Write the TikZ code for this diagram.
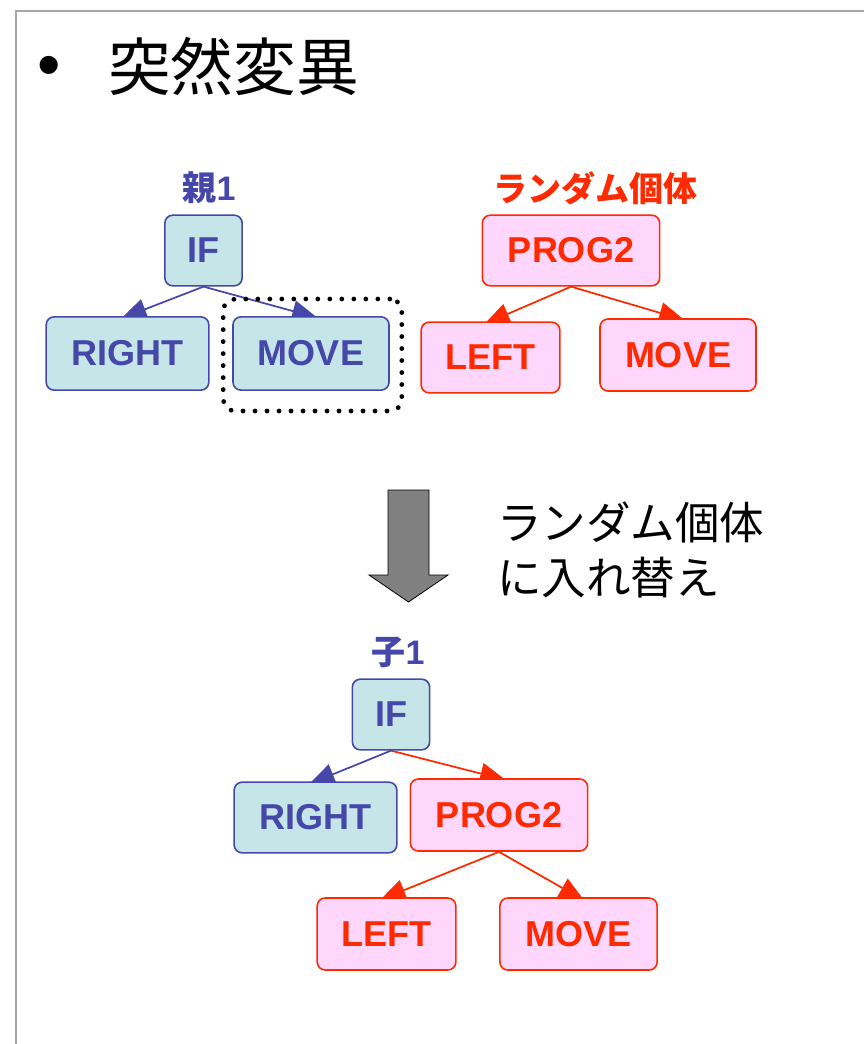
\documentclass[tikz,border=0pt]{standalone}
\usepackage{fontspec}
\setmainfont{Liberation Sans}
\newfontfamily\cjk{Noto Sans CJK JP}
\usetikzlibrary{arrows.meta}
\pgfdeclarelayer{bg}
\pgfsetlayers{bg,main}
\definecolor{bl}{HTML}{4547A9}
\definecolor{cy}{HTML}{C6E5E9}
\definecolor{rd}{HTML}{FF2A00}
\definecolor{pk}{HTML}{FFD6FC}
\definecolor{fr}{HTML}{A6A6A6}
\definecolor{ga}{HTML}{808080}
\begin{document}
\begin{tikzpicture}[x=0.75pt,y=-0.75pt,
  box/.style={rounded corners=6pt, line width=1.2pt, inner sep=0pt,
    font=\fontsize{27}{27}\selectfont\bfseries},
  bbox/.style={box, draw=bl, fill=cy, text=bl},
  rbox/.style={box, draw=rd, fill=pk, text=rd},
  lab/.style={font=\fontsize{25.5}{25.5}\selectfont\bfseries, inner sep=0pt},
  conn/.style={line width=1.3pt, -{Triangle[length=19pt,width=16pt]}, shorten >=-5pt},
  bconn/.style={conn, draw=bl, fill=bl},
  rconn/.style={conn, draw=rd, fill=rd},
]
\path[use as bounding box] (0,0) rectangle (863,1044);
\draw[fr, line width=1.5pt] (16,1050) -- (16,11) -- (870,11);

% title
\node[inner sep=0pt] (bul) at (49,72) {\fontsize{50}{50}\selectfont •};
\node[anchor=west, inner sep=0pt] (title) at (108,67) {\cjk\fontsize{47}{47}\selectfont 突然変異};

% parent 1
\node[lab, text=bl] (plab) at (209,188) {{\cjk 親}1};
\node[bbox, minimum width=58pt, minimum height=53pt] (pif) at (203.5,250.5) {IF};
\node[bbox, minimum width=122pt, minimum height=55pt] (pright) at (127.5,353.5) {RIGHT};
\node[bbox, minimum width=117pt, minimum height=55pt] (pmove) at (311,353.5) {MOVE};
\node[draw=black, line width=3.6pt, dash pattern=on 0pt off 9pt, line cap=round,
      rounded corners=9pt, minimum width=134pt, minimum height=84pt] (sel) at (312.5,355) {};

% random individual
\node[lab, text=rd] (rlab) at (595,188) {\cjk ランダム個体};
\node[rbox, minimum width=133pt, minimum height=53pt] (rprog) at (571,250.5) {PROG2};
\node[rbox, minimum width=104pt, minimum height=53pt] (rleft) at (490.5,357.5) {LEFT};
\node[rbox, minimum width=117pt, minimum height=54pt] (rmove) at (678,355) {MOVE};

% big arrow and explanation
\draw[fill=ga, draw=black, line width=0.6pt] (388,490) -- (429,490) -- (429,575) -- (448,575)
  -- (408.5,602) -- (369,575) -- (388,575) -- cycle;
\node[anchor=west, align=left, inner sep=0pt, font={\cjk\fontsize{33.4}{41.5}\selectfont}] (expl) at (497,550)
  {ランダム個体\\に入れ替え};

% child 1
\node[lab, text=bl] (clab) at (398,652) {{\cjk 子}1};
\node[bbox, minimum width=58pt, minimum height=53pt] (cif) at (391,714.5) {IF};
\node[bbox, minimum width=122pt, minimum height=53pt] (cright) at (315.5,817.5) {RIGHT};
\node[rbox, minimum width=133pt, minimum height=54pt] (cprog) at (499,815) {PROG2};
\node[rbox, minimum width=104pt, minimum height=54pt] (cleft) at (386.5,934) {LEFT};
\node[rbox, minimum width=118pt, minimum height=54pt] (cmove) at (578.5,934) {MOVE};

\begin{pgfonlayer}{bg}
\draw[bconn] (pif.south) -- (pright.north);
\draw[bconn] (pif.south) -- (pmove.north);
\draw[rconn] (rprog.south) -- (rleft.north);
\draw[rconn] (rprog.south) -- (rmove.north);
\draw[bconn] (cif.south) -- (cright.north);
\draw[rconn] (cif.south) -- (cprog.north);
\draw[rconn] (cprog.south) -- (cleft.north);
\draw[rconn] (cprog.south) -- (cmove.north);
\end{pgfonlayer}
\end{tikzpicture}
\end{document}
